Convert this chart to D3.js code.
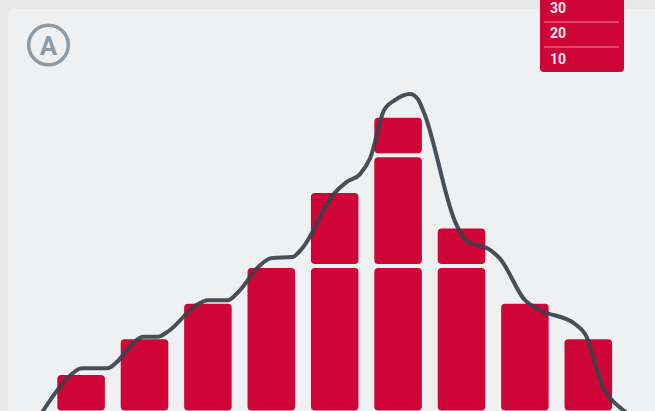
<!DOCTYPE html>
<html>
<head>
<meta charset="utf-8">
<script src="https://cdn.jsdelivr.net/npm/d3@7"></script>
<style>
  html, body { margin: 0; padding: 0; background: #e8e8e8; }
  svg { display: block; }
</style>
</head>
<body>
<svg></svg>
<script>
// bins of the histogram
const bins = ["b1", "b2", "b3", "b4", "b5", "b6", "b7", "b8", "b9"];
// stacked blocks per bin (bottom, middle, top)
const layerLow = [1, 2, 3, 4, 4, 4, 4, 3, 2];
const layerMid = [0, 0, 0, 0, 2, 3, 1, 0, 0];
const layerTop = [0, 0, 0, 0, 0, 1, 0, 0, 0];
// legend labels
const legendLabels = ["30", "20", "10"];
// overlay curve: position in bin units (0 = first bin centre) and value
const curveX = [-0.60, -0.18, 0.01, 0.42, 0.58, 0.79, 0.98, 1.21, 1.40, 1.80, 2.00, 2.32, 2.48, 2.81, 3.00, 3.33,
    3.48, 3.97, 4.19, 4.40, 4.56, 4.78, 4.95, 5.19, 5.31, 5.41, 5.90, 6.06, 6.45, 6.61, 7.00, 7.24, 7.79, 7.95,
    8.25, 8.37, 8.61];
const curveY = [-0.01, 0.97, 1.19, 1.19, 1.39, 1.84, 2.07, 2.07, 2.26, 2.94, 3.10, 3.10, 3.33, 4.06, 4.28, 4.31,
    4.54, 6.05, 6.42, 6.64, 7.09, 8.44, 8.72, 8.89, 8.75, 8.36, 5.30, 4.79, 4.51, 4.26, 3.10, 2.82, 2.43, 2.15,
    0.58, 0.30, -0.07];

function drawChart() {
    const width = 655, height = 411;
    const svg = d3.select("svg").attr("width", width).attr("height", height);
    svg.selectAll("*").remove();

    const red = "#cf0538";
    const gap = 4;

    // card
    svg.append("rect")
        .attr("x", 8).attr("y", 9)
        .attr("width", 660).attr("height", 420)
        .attr("rx", 6)
        .attr("fill", "#eff0f2");

    const x = d3.scaleBand()
        .domain(bins)
        .range([49.4, 620])
        .paddingInner(0.25)
        .paddingOuter(0.125);

    const y = d3.scaleLinear()
        .domain([0, 10])
        .range([410.5, 54.5]);

    const unit = y(0) - y(1);

    // build stacked segments with a small gap between them
    const segments = [];
    bins.forEach(function (b, i) {
        let bottom = y(0);
        [layerLow[i], layerMid[i], layerTop[i]].forEach(function (v, k) {
            if (!v) return;
            if (k > 0) bottom -= gap;
            const h = v * unit;
            segments.push({ bin: b, y: bottom - h, h: h });
            bottom -= h;
        });
    });

    svg.append("g").selectAll("rect")
        .data(segments)
        .enter().append("rect")
        .attr("x", function (d) { return x(d.bin); })
        .attr("y", function (d) { return d.y; })
        .attr("width", x.bandwidth())
        .attr("height", function (d) { return d.h; })
        .attr("rx", 4)
        .attr("fill", red);

    // overlay curve
    const c0 = x(bins[0]) + x.bandwidth() / 2;
    const lx = d3.scaleLinear().domain([0, 1]).range([c0, c0 + x.step()]);
    const pts = curveX.map(function (v, i) { return [v, curveY[i]]; });
    const line = d3.line()
        .x(function (d) { return lx(d[0]); })
        .y(function (d) { return y(d[1]); })
        .curve(d3.curveMonotoneX);

    svg.append("path")
        .datum(pts)
        .attr("d", line)
        .attr("fill", "none")
        .attr("stroke", "#38424a")
        .attr("stroke-opacity", 0.92)
        .attr("stroke-width", 4)
        .attr("stroke-linecap", "round")
        .attr("stroke-linejoin", "round");

    // "A" badge
    const badge = svg.append("g").attr("transform", "translate(48.5,45)");
    badge.append("circle")
        .attr("r", 19.8)
        .attr("fill", "none")
        .attr("stroke", "#8f99a2")
        .attr("stroke-width", 3.5);
    badge.append("text")
        .attr("y", 9.5)
        .attr("text-anchor", "middle")
        .attr("font-family", "Roboto, sans-serif")
        .attr("font-weight", "bold")
        .attr("font-size", 26)
        .attr("fill", "#8f99a2")
        .text("A");

    // legend box
    const lg = svg.append("g").attr("transform", "translate(540,0)");
    lg.append("path")
        .attr("d", "M0,-5 H84 V68 Q84,72 80,72 H4 Q0,72 0,68 Z")
        .attr("fill", red);
    [22, 47].forEach(function (yy) {
        lg.append("line")
            .attr("x1", 4).attr("x2", 79)
            .attr("y1", yy).attr("y2", yy)
            .attr("stroke", "#e04862")
            .attr("stroke-width", 2);
    });
    lg.selectAll("text.lab")
        .data(legendLabels)
        .enter().append("text")
        .attr("class", "lab")
        .attr("x", 10)
        .attr("y", function (d, i) { return 12.5 + i * 25.5; })
        .attr("font-family", "Roboto, sans-serif")
        .attr("font-weight", "bold")
        .attr("font-size", 14)
        .attr("fill", "#f4e6ea")
        .text(function (d) { return d; });
}

drawChart();
</script>
</body>
</html>
